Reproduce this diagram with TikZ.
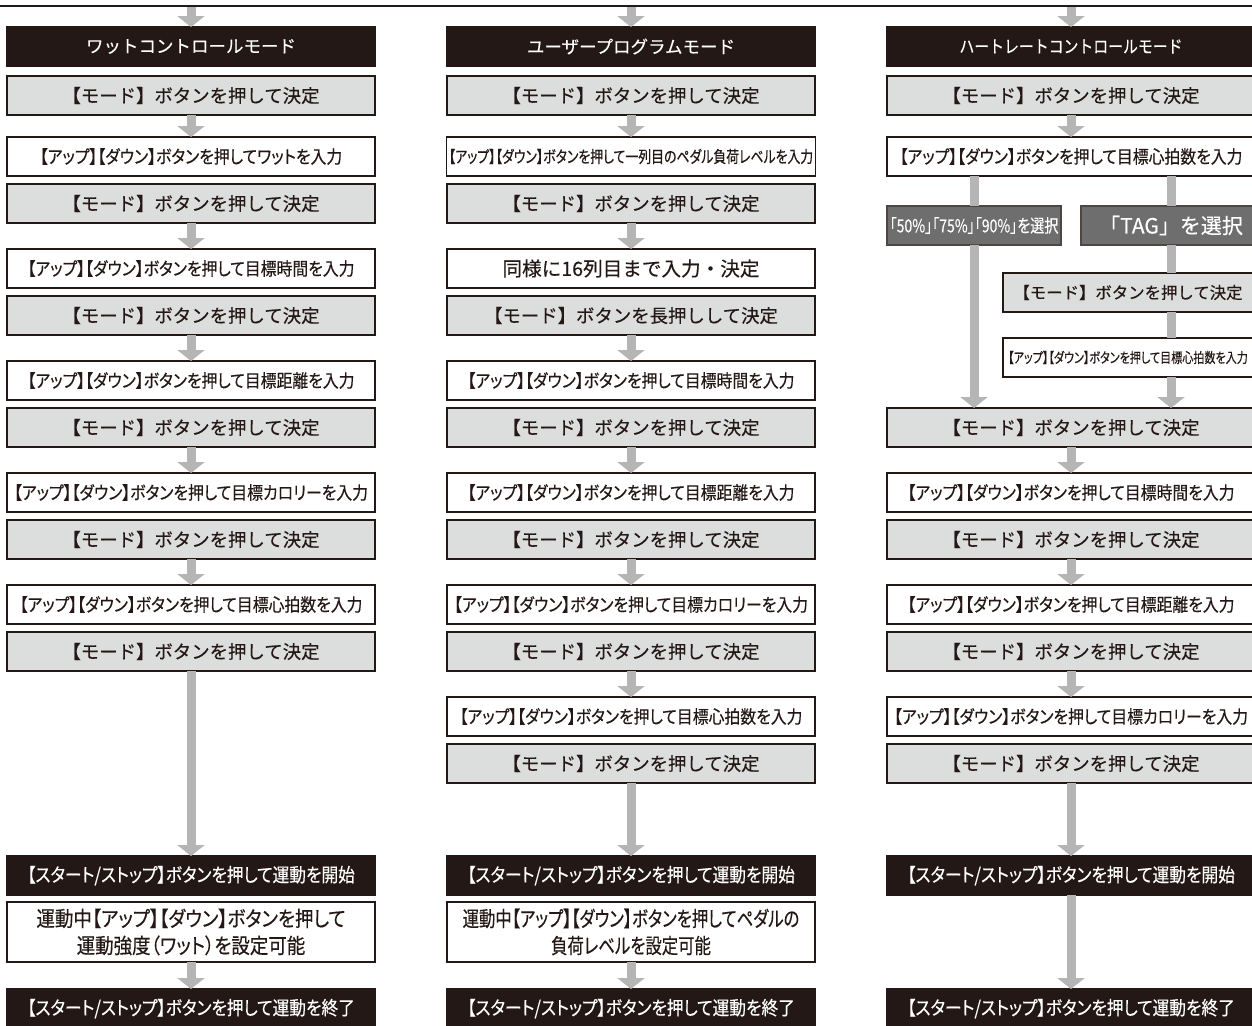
\documentclass[tikz,border=0pt]{standalone}
\usepackage{fontspec}
\setmainfont{Noto Sans CJK JP}[FakeBold=0.3]
\newfontfamily\jpcond{Noto Sans CJK JP}[RawFeature=+palt,FakeStretch=0.88,FakeBold=0.3]
\newfontfamily\jpnarrow{Noto Sans CJK JP}[RawFeature=+palt,FakeStretch=0.78,FakeBold=0.3]
\newfontfamily\jptight{Noto Sans CJK JP}[FakeStretch=0.85,FakeBold=0.3]
\usetikzlibrary{arrows.meta,positioning}
\definecolor{ink}{HTML}{231815}
\definecolor{modegray}{HTML}{DCDDDD}
\definecolor{flowgray}{HTML}{B5B5B6}
\definecolor{selgray}{HTML}{6E6E6E}
\tikzset{
  box/.style={draw=ink,line width=0.6pt,minimum width=184pt,minimum height=19.5pt,inner sep=1pt,outer sep=0pt,align=center,text=ink},
  titlebox/.style={box,fill=ink,text=white,font=\fontsize{8.75}{11}\selectfont},
  modebox/.style={box,fill=modegray,font=\fontsize{9.2}{11}\selectfont},
  inbox/.style={box,fill=white,font=\jpcond\fontsize{9}{11}\selectfont},
  widebox/.style={inbox,font=\jpnarrow\fontsize{8.25}{10}\selectfont},
  runbox/.style={box,fill=ink,text=white,font=\jpcond\fontsize{9.5}{11}\selectfont},
  notebox/.style={inbox,minimum height=30pt,font=\jpcond\fontsize{10.5}{13.5}\selectfont},
  selbox/.style={box,fill=selgray,draw=ink!80,text=white,minimum width=87pt},
  flow/.style={draw=flowgray,line width=4.5pt,-{Triangle[width=13.5pt,length=5.5pt]}},
  flowline/.style={draw=flowgray,line width=4.5pt},
  rule/.style={draw=ink,line width=0.75pt},
}

\begin{document}
\begin{tikzpicture}[x=0.5pt,y=-0.5pt]
\useasboundingbox (0,0) rectangle (1252,1025);
\coordinate (ruleL) at (0,6);
\coordinate (ruleR) at (1252,6);

% watt control
\node[titlebox] (wtitle) at (191,46.5) {ワットコントロールモード};
\node[modebox,below=5pt of wtitle] (wm0) {【モード】ボタンを押して決定};
\node[inbox,below=11pt of wm0] (wi1) {【アップ】【ダウン】ボタンを押してワットを入力};
\node[modebox,below=4pt of wi1] (wm1) {【モード】ボタンを押して決定};
\node[inbox,below=13pt of wm1] (wi2) {【アップ】【ダウン】ボタンを押して目標時間を入力};
\node[modebox,below=4pt of wi2] (wm2) {【モード】ボタンを押して決定};
\node[inbox,below=13pt of wm2] (wi3) {【アップ】【ダウン】ボタンを押して目標距離を入力};
\node[modebox,below=4pt of wi3] (wm3) {【モード】ボタンを押して決定};
\node[inbox,below=13pt of wm3] (wi4) {【アップ】【ダウン】ボタンを押して目標カロリーを入力};
\node[modebox,below=4pt of wi4] (wm4) {【モード】ボタンを押して決定};
\node[inbox,below=13pt of wm4] (wi5) {【アップ】【ダウン】ボタンを押して目標心拍数を入力};
\node[modebox,below=4pt of wi5] (wm5) {【モード】ボタンを押して決定};
\node[runbox,below=92.5pt of wm5] (wstart) {【スタート/ストップ】ボタンを押して運動を開始};
\node[notebox,below=3.5pt of wstart] (wnote) {運動中【アップ】【ダウン】ボタンを押して\\運動強度（ワット）を設定可能};
\node[runbox,below=13.5pt of wnote] (wstop) {【スタート/ストップ】ボタンを押して運動を終了};

\draw[flow] (wtitle.north |- ruleL) -- (wtitle.north);
\draw[flow] (wm0) -- (wi1);
\draw[flow] (wm1) -- (wi2);
\draw[flow] (wm2) -- (wi3);
\draw[flow] (wm3) -- (wi4);
\draw[flow] (wm4) -- (wi5);
\draw[flow] (wm5) -- (wstart);
\draw[flow] (wnote) -- (wstop);

% user program
\node[titlebox] (utitle) at (631,46.5) {ユーザープログラムモード};
\node[modebox,below=5pt of utitle] (um0) {【モード】ボタンを押して決定};
\node[widebox,below=11pt of um0] (ui1) {【アップ】【ダウン】ボタンを押して一列目のペダル負荷レベルを入力};
\node[modebox,below=4pt of ui1] (um1) {【モード】ボタンを押して決定};
\node[inbox,below=13pt of um1,font=\fontsize{9.8}{11}\selectfont] (ui2) {同様に16列目まで入力・決定};
\node[modebox,below=4pt of ui2] (um2) {【モード】ボタンを長押しして決定};
\node[inbox,below=13pt of um2] (ui3) {【アップ】【ダウン】ボタンを押して目標時間を入力};
\node[modebox,below=4pt of ui3] (um3) {【モード】ボタンを押して決定};
\node[inbox,below=13pt of um3] (ui4) {【アップ】【ダウン】ボタンを押して目標距離を入力};
\node[modebox,below=4pt of ui4] (um4) {【モード】ボタンを押して決定};
\node[inbox,below=13pt of um4] (ui5) {【アップ】【ダウン】ボタンを押して目標カロリーを入力};
\node[modebox,below=4pt of ui5] (um5) {【モード】ボタンを押して決定};
\node[inbox,below=13pt of um5] (ui6) {【アップ】【ダウン】ボタンを押して目標心拍数を入力};
\node[modebox,below=4pt of ui6] (um6) {【モード】ボタンを押して決定};
\node[runbox,below=36.5pt of um6] (ustart) {【スタート/ストップ】ボタンを押して運動を開始};
\node[notebox,below=3.5pt of ustart,font=\jpnarrow\fontsize{10.5}{13.5}\selectfont] (unote) {運動中【アップ】【ダウン】ボタンを押してペダルの\\負荷レベルを設定可能};
\node[runbox,below=13.5pt of unote] (ustop) {【スタート/ストップ】ボタンを押して運動を終了};

\draw[flow] (utitle.north |- ruleL) -- (utitle.north);
\draw[flow] (um0) -- (ui1);
\draw[flow] (um1) -- (ui2);
\draw[flow] (um2) -- (ui3);
\draw[flow] (um3) -- (ui4);
\draw[flow] (um4) -- (ui5);
\draw[flow] (um5) -- (ui6);
\draw[flow] (um6) -- (ustart);
\draw[flow] (unote) -- (ustop);

% heart rate control
\node[titlebox,font=\jptight\fontsize{8.75}{11}\selectfont] (htitle) at (1071,46.5) {ハートレートコントロールモード};
\node[modebox,below=5pt of htitle] (hm0) {【モード】ボタンを押して決定};
\node[inbox,below=11pt of hm0] (hi1) {【アップ】【ダウン】ボタンを押して目標心拍数を入力};
\node[selbox,below=15pt of hi1.south west,anchor=north west,font=\jpnarrow\fontsize{9}{11}\selectfont] (hpct) {「50\%」「75\%」「90\%」を選択};
\node[selbox,minimum width=90pt,right=10pt of hpct,font=\fontsize{10.5}{12}\selectfont] (htag) {「TAG」を選択};
\node[modebox,minimum width=125pt,below=14pt of htag.south west,anchor=north west,xshift=-39pt,font=\fontsize{8.2}{10}\selectfont] (hmtag) {【モード】ボタンを押して決定};
\node[inbox,minimum width=125pt,below=13pt of hmtag,font=\jpnarrow\fontsize{7.1}{9}\selectfont] (hitag) {【アップ】【ダウン】ボタンを押して目標心拍数を入力};
\coordinate (hjoin) at (hi1.south |- hitag.south);
\node[modebox,below=15.5pt of hjoin] (hm1) {【モード】ボタンを押して決定};
\node[inbox,below=13pt of hm1] (hi2) {【アップ】【ダウン】ボタンを押して目標時間を入力};
\node[modebox,below=4pt of hi2] (hm2) {【モード】ボタンを押して決定};
\node[inbox,below=13pt of hm2] (hi3) {【アップ】【ダウン】ボタンを押して目標距離を入力};
\node[modebox,below=4pt of hi3] (hm3) {【モード】ボタンを押して決定};
\node[inbox,below=13pt of hm3] (hi4) {【アップ】【ダウン】ボタンを押して目標カロリーを入力};
\node[modebox,below=4pt of hi4] (hm4) {【モード】ボタンを押して決定};
\node[runbox,below=36.5pt of hm4] (hstart) {【スタート/ストップ】ボタンを押して運動を開始};
\node[runbox,below=47pt of hstart] (hstop) {【スタート/ストップ】ボタンを押して運動を終了};

\draw[flow] (htitle.north |- ruleL) -- (htitle.north);
\draw[flow] (hm0) -- (hi1);
\draw[flowline] (hpct.north |- hi1.south) -- (hpct.north);
\draw[flow] (hpct.south) -- (hpct.south |- hm1.north);
\draw[flowline] (htag.north |- hi1.south) -- (htag.north);
\draw[flowline] (htag.south) -- (htag.south |- hmtag.north);
\draw[flowline] (htag.south |- hmtag.south) -- (htag.south |- hitag.north);
\draw[flow] (htag.south |- hitag.south) -- (htag.south |- hm1.north);
\draw[flow] (hm1) -- (hi2);
\draw[flow] (hm2) -- (hi3);
\draw[flow] (hm3) -- (hi4);
\draw[flow] (hm4) -- (hstart);
\draw[flow] (hstart) -- (hstop);

\draw[rule] (ruleL) -- (ruleR);
\end{tikzpicture}
\end{document}
